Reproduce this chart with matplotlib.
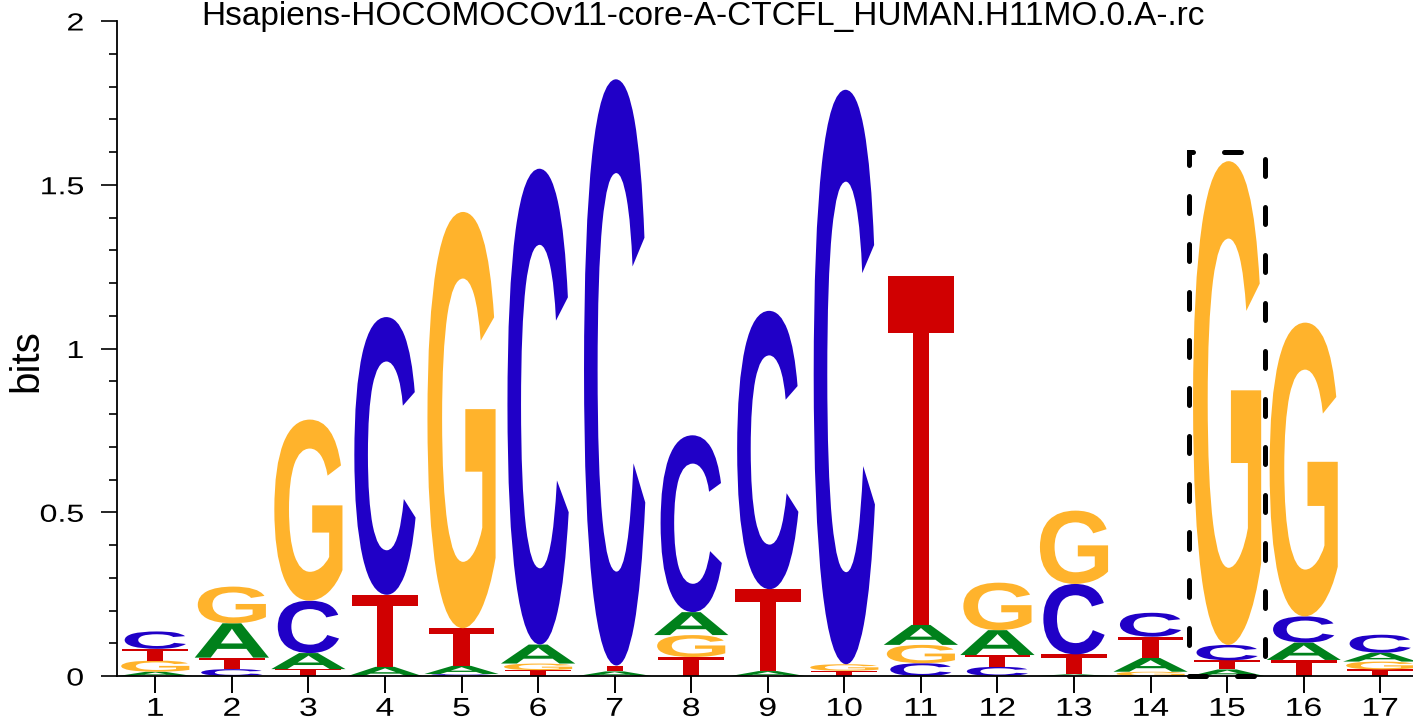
import matplotlib
matplotlib.use("Agg")
import matplotlib.pyplot as plt
from matplotlib.textpath import TextPath
from matplotlib.font_manager import FontProperties
from matplotlib.patches import PathPatch, Rectangle
from matplotlib.transforms import Affine2D
from matplotlib.patheffects import AbstractPathEffect
from matplotlib.ticker import MultipleLocator

# ---------------- data ----------------
title = "Hsapiens-HOCOMOCOv11-core-A-CTCFL_HUMAN.H11MO.0.A-.rc"
positions = list(range(1, 18))
bits_A = [0.013, 0.105, 0.049, 0.028, 0.025, 0.058, 0.014, 0.070, 0.015, 0.000,
          0.061, 0.076, 0.005, 0.042, 0.020, 0.053, 0.027]
bits_C = [0.053, 0.021, 0.160, 0.848, 0.006, 1.453, 1.790, 0.540, 0.850, 1.754,
          0.039, 0.028, 0.215, 0.073, 0.047, 0.080, 0.055]
bits_G = [0.034, 0.112, 0.553, 0.000, 1.271, 0.020, 0.000, 0.067, 0.000, 0.020,
          0.056, 0.145, 0.224, 0.013, 1.477, 0.897, 0.024]
bits_T = [0.036, 0.035, 0.021, 0.220, 0.115, 0.018, 0.018, 0.058, 0.250, 0.016,
          1.065, 0.036, 0.061, 0.065, 0.028, 0.049, 0.020]
y_ticks = [0, 0.5, 1, 1.5, 2]
y_tick_labels = ["0", "0.5", "1", "1.5", "2"]
highlight_pos = 15
highlight_top = 1.6

# ---------------- style ----------------
colors = {"A": "#00811B", "C": "#2000C7", "G": "#FFB32C", "T": "#D00001"}
letter_width = {"A": 0.97, "C": 0.80, "G": 0.89, "T": 0.86}
plt.rcParams["font.family"] = ["Liberation Sans", "DejaVu Sans"]


class Stretch(AbstractPathEffect):
    """Horizontally stretch a text's glyphs (text stays a Text artist)."""

    def __init__(self, sx=1.0, anchor="center"):
        super().__init__()
        self.sx = sx
        self.anchor = anchor

    def draw_path(self, renderer, gc, tpath, affine, rgbFace=None):
        ext = tpath.get_extents()
        if self.anchor == "right":
            cx = ext.x1
        elif self.anchor == "left":
            cx = ext.x0
        else:
            cx = 0.5 * (ext.x0 + ext.x1)
        t = Affine2D().translate(-cx, 0).scale(self.sx, 1.0).translate(cx, 0) + affine
        renderer.draw_path(gc, tpath, t, rgbFace)


W, H = 1413, 723
fig = plt.figure(figsize=(W / 100, H / 100), dpi=100)
unit = 76.56
ax = fig.add_axes([117 / W, 47 / H, 17 * unit / W, 655 / H])
ax.set_xlim(0.5, 17.5)
ax.set_ylim(0, 2)

glyph_fp = FontProperties(family="Liberation Sans", weight="bold")
glyphs = {}
for L in "ACGT":
    tp = TextPath((0, 0), L, size=1, prop=glyph_fp)
    glyphs[L] = (tp, tp.get_extents())


def draw_letter(L, x, y0, h):
    tp, ext = glyphs[L]
    w = letter_width[L]
    tr = (Affine2D().translate(-ext.x0, -ext.y0)
          .scale(w / ext.width, h / ext.height)
          .translate(x - w / 2, y0))
    ax.add_patch(PathPatch(tr.transform_path(tp), fc=colors[L], ec="none",
                           lw=0, zorder=2))


for i, x in enumerate(positions):
    col = [("A", bits_A[i]), ("C", bits_C[i]), ("G", bits_G[i]), ("T", bits_T[i])]
    col.sort(key=lambda t: t[1])
    y = 0.0
    for L, h in col:
        if h > 0:
            draw_letter(L, x, y, h)
        y += h

# highlight box
ax.add_patch(Rectangle((highlight_pos - 0.5, 0), 1.0, highlight_top, fill=False,
                       ec="black", lw=3.6, linestyle=(0, (3.4, 6.2)),
                       capstyle="round", zorder=4, clip_on=False))

# axes styling
for s in ("top", "right"):
    ax.spines[s].set_visible(False)
for s in ("left", "bottom"):
    ax.spines[s].set_linewidth(1.3)
ax.spines["bottom"].set_zorder(3)

ax.set_xticks(positions)
ax.set_xticklabels([str(p) for p in positions])
ax.tick_params(axis="x", length=12.5, width=1.4, labelsize=18.7, pad=2.5)
for lab in ax.get_xticklabels():
    lab.set_path_effects([Stretch(1.3, "center")])

ax.set_yticks(y_ticks)
ax.set_yticklabels(y_tick_labels)
ax.yaxis.set_minor_locator(MultipleLocator(0.1))
ax.tick_params(axis="y", which="major", length=11.3, width=1.2, labelsize=17.8, pad=12.5)
ax.tick_params(axis="y", which="minor", length=5.8, width=1.2)
for lab in ax.get_yticklabels():
    lab.set_path_effects([Stretch(1.3, "right")])

fig.text(26 / W, 1 - 360.5 / H, "bits", rotation=90, ha="center", va="center",
         fontsize=29)
fig.text(702.5 / W, 1 - 25.5 / H, title, ha="center", va="baseline", fontsize=24)

fig.savefig("out.png", dpi=100)
